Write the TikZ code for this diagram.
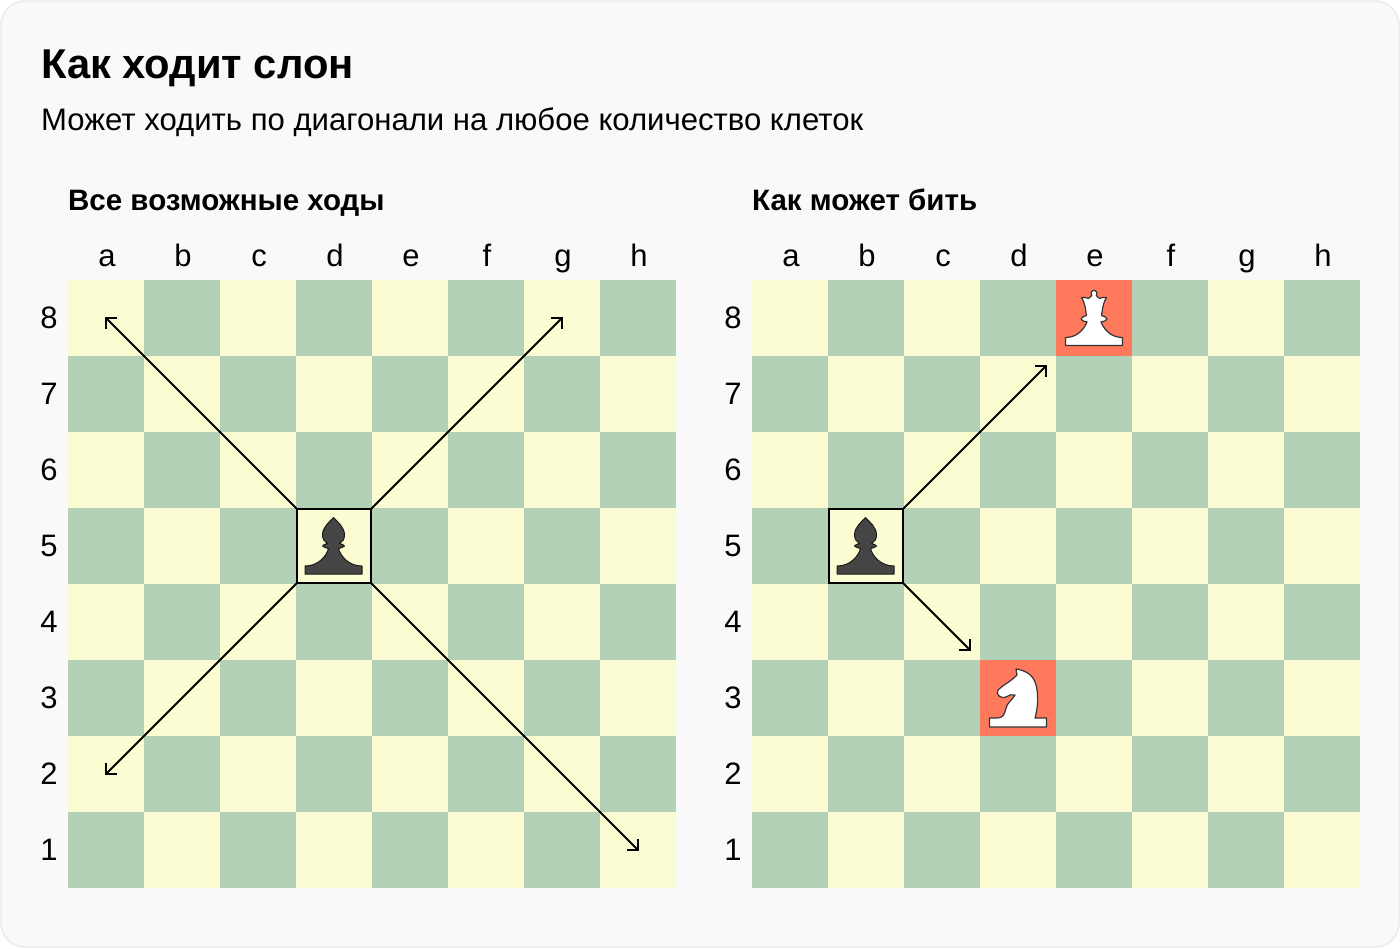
\documentclass[tikz,border=0pt]{standalone}
\usepackage{fontspec}
\setmainfont{Liberation Sans}
\usetikzlibrary{arrows.meta}
\definecolor{lightsq}{HTML}{FBFCD2}
\definecolor{darksq}{HTML}{B3D1B6}
\definecolor{hitsq}{HTML}{FF7A5C}
\definecolor{cardbg}{HTML}{F9F9F9}
\definecolor{cardedge}{HTML}{EEEEEE}
\definecolor{blackpiece}{HTML}{454545}
\tikzset{
  x=1pt,y=-1pt,
  sq/.style={minimum size=76pt,inner sep=0pt,outer sep=0pt,draw=none},
  lsq/.style={sq,fill=lightsq},
  dsq/.style={sq,fill=darksq},
  hit/.style={sq,fill=hitsq},
  bishopcell/.style={minimum size=74pt,inner sep=0pt,outer sep=0pt,draw=black,line width=2pt,fill=lightsq},
  move/.style={draw=black,line width=2pt,-{Straight Barb[length=7.5pt,width=15pt,line width=2pt]}},
  lab/.style={font=\fontsize{31}{36}\selectfont,text=black,inner sep=0pt,anchor=base},
  head/.style={font=\bfseries\fontsize{29.5}{34}\selectfont,text=black,inner sep=0pt,anchor=base west},
  bpiece/.style={fill=blackpiece,draw=black!60!blackpiece,line width=1pt,line join=round},
  wpiece/.style={fill=white,draw=black!80,line width=1.2pt,line join=round},
}
\newcommand{\bishoppiece}[2]{%
  \draw[bpiece,shift={(#1,#2)}] (0,-28.5) .. controls (-4,-24) and (-11,-19) .. (-11,-11)
   .. controls (-11,-7) and (-9,-4) .. (-6,-2.5) .. controls (-8,-2) and (-11,-1) .. (-11,0)
   .. controls (-10,1.5) and (-7,2) .. (-5,2.5) .. controls (-7,10) and (-15,20) .. (-28.5,20)
   -- (-28.5,28) -- (28.5,28) -- (28.5,20) .. controls (15,20) and (7,10) .. (5,2.5)
   .. controls (7,2) and (10,1.5) .. (11,0) .. controls (11,-1) and (8,-2) .. (6,-2.5)
   .. controls (9,-4) and (11,-7) .. (11,-11) .. controls (11,-19) and (4,-24) .. (0,-28.5) -- cycle;}
\newcommand{\queenpiece}[2]{%
  \draw[wpiece,shift={(#1,#2)}] (-27.5,19.5) .. controls (-15,19) and (-9,9) .. (-7,4)
   .. controls (-10,3.5) and (-13,2.5) .. (-13,1) .. controls (-13,-1) and (-10,-1.5) .. (-7.5,-2.5)
   .. controls (-8.5,-8) and (-8.5,-14) .. (-12.5,-20.5)
   .. controls (-10,-21.5) and (-7,-20) .. (-5.5,-19.5)
   .. controls (-4,-20.5) and (-3,-21) .. (-2.2,-22.5)
   .. controls (-4,-25) and (-2,-28) .. (0,-28) .. controls (2,-28) and (4,-25) .. (2.2,-22.5)
   .. controls (3,-21) and (4,-20.5) .. (5.5,-19.5)
   .. controls (7,-20) and (10,-21.5) .. (12.5,-20.5)
   .. controls (8.5,-14) and (8.5,-8) .. (7.5,-2.5)
   .. controls (10,-1.5) and (13,-1) .. (13,1) .. controls (13,2.5) and (10,3.5) .. (7,4)
   .. controls (9,9) and (15,19) .. (27.5,19.5) -- (28.5,19.5) -- (28.5,27.5) -- (-28.5,27.5) -- (-28.5,19.5) -- cycle;}
\newcommand{\knightpiece}[2]{%
  \draw[wpiece,shift={(#1,#2)}] (-2,-29) .. controls (6,-28) and (14,-24) .. (17,-16)
   .. controls (21,-6) and (20,10) .. (17,20) -- (28.5,20) -- (28.5,29) -- (-28.5,29) -- (-28.5,20)
   -- (-20,20) .. controls (-14,20) and (-13,14) .. (-12,10) .. controls (-11,5) and (-5,1) .. (-3,-3)
   .. controls (-6,-4) and (-9,-3) .. (-11,-1.5) .. controls (-14,0) and (-17,0) .. (-19,-2)
   .. controls (-21,-4) and (-21,-6) .. (-20,-8) .. controls (-15,-13) and (-8,-16) .. (-1,-23)
   -- cycle;}
\begin{document}
\begin{tikzpicture}
\useasboundingbox (0,0) rectangle (1400,948);
\path[fill=white] (0,0) rectangle (1400,948);
\draw[fill=cardbg,draw=cardedge,line width=2pt,rounded corners=24pt] (1,1) rectangle (1399,947);
\node[inner sep=0pt,anchor=base west,font=\bfseries\fontsize{41.7}{48}\selectfont] (title) at (41,78) {Как ходит слон};
\node[inner sep=0pt,anchor=base west,font=\fontsize{31.1}{36}\selectfont] (subtitle) at (41,130) {Может ходить по диагонали на любое количество клеток};
\node[head] (headL) at (68,210) {Все возможные ходы};
\node[head] (headR) at (752,210) {Как может бить};
% boards
\foreach \bname/\ox in {L/68,R/752}{
  \foreach \f [count=\i from 0] in {a,b,c,d,e,f,g,h}{
    \node[lab] (\bname file\f) at ({\ox+39+76*\i},266.5) {\f};
    \pgfmathtruncatemacro{\rk}{8-\i}
    \node[lab] (\bname rank\rk) at ({\ox-19},{280+38+76*\i+10.5}) {\rk};
    \foreach \j in {0,...,7}{
      \pgfmathtruncatemacro{\parity}{mod(\i+\j,2)}
      \ifnum\parity=0
        \node[lsq] (\bname\f\j) at ({\ox+38+76*\i},{318+76*\j}) {};
      \else
        \node[dsq] (\bname\f\j) at ({\ox+38+76*\i},{318+76*\j}) {};
      \fi
    }
  }
}
\node[hit] (hitQueen) at (1094,318) {};
\node[hit] (hitKnight) at (1018,698) {};
\node[bishopcell] (bishopL) at (334,546) {};
\node[bishopcell] (bishopR) at (866,546) {};
\bishoppiece{333.5}{546}
\bishoppiece{865.5}{546}
\queenpiece{1094}{318}
\knightpiece{1018}{698}
\coordinate (endNW) at (105,317);
\coordinate (endNE) at (563,317);
\coordinate (endSW) at (105,775);
\coordinate (endSE) at (639,851);
\coordinate (endQ) at (1047,365);
\coordinate (endK) at (971,651);
\draw[move] (bishopL.north west) -- (endNW);
\draw[move] (bishopL.north east) -- (endNE);
\draw[move] (bishopL.south west) -- (endSW);
\draw[move] (bishopL.south east) -- (endSE);
\draw[move] (bishopR.north east) -- (endQ);
\draw[move] (bishopR.south east) -- (endK);
\end{tikzpicture}
\end{document}
